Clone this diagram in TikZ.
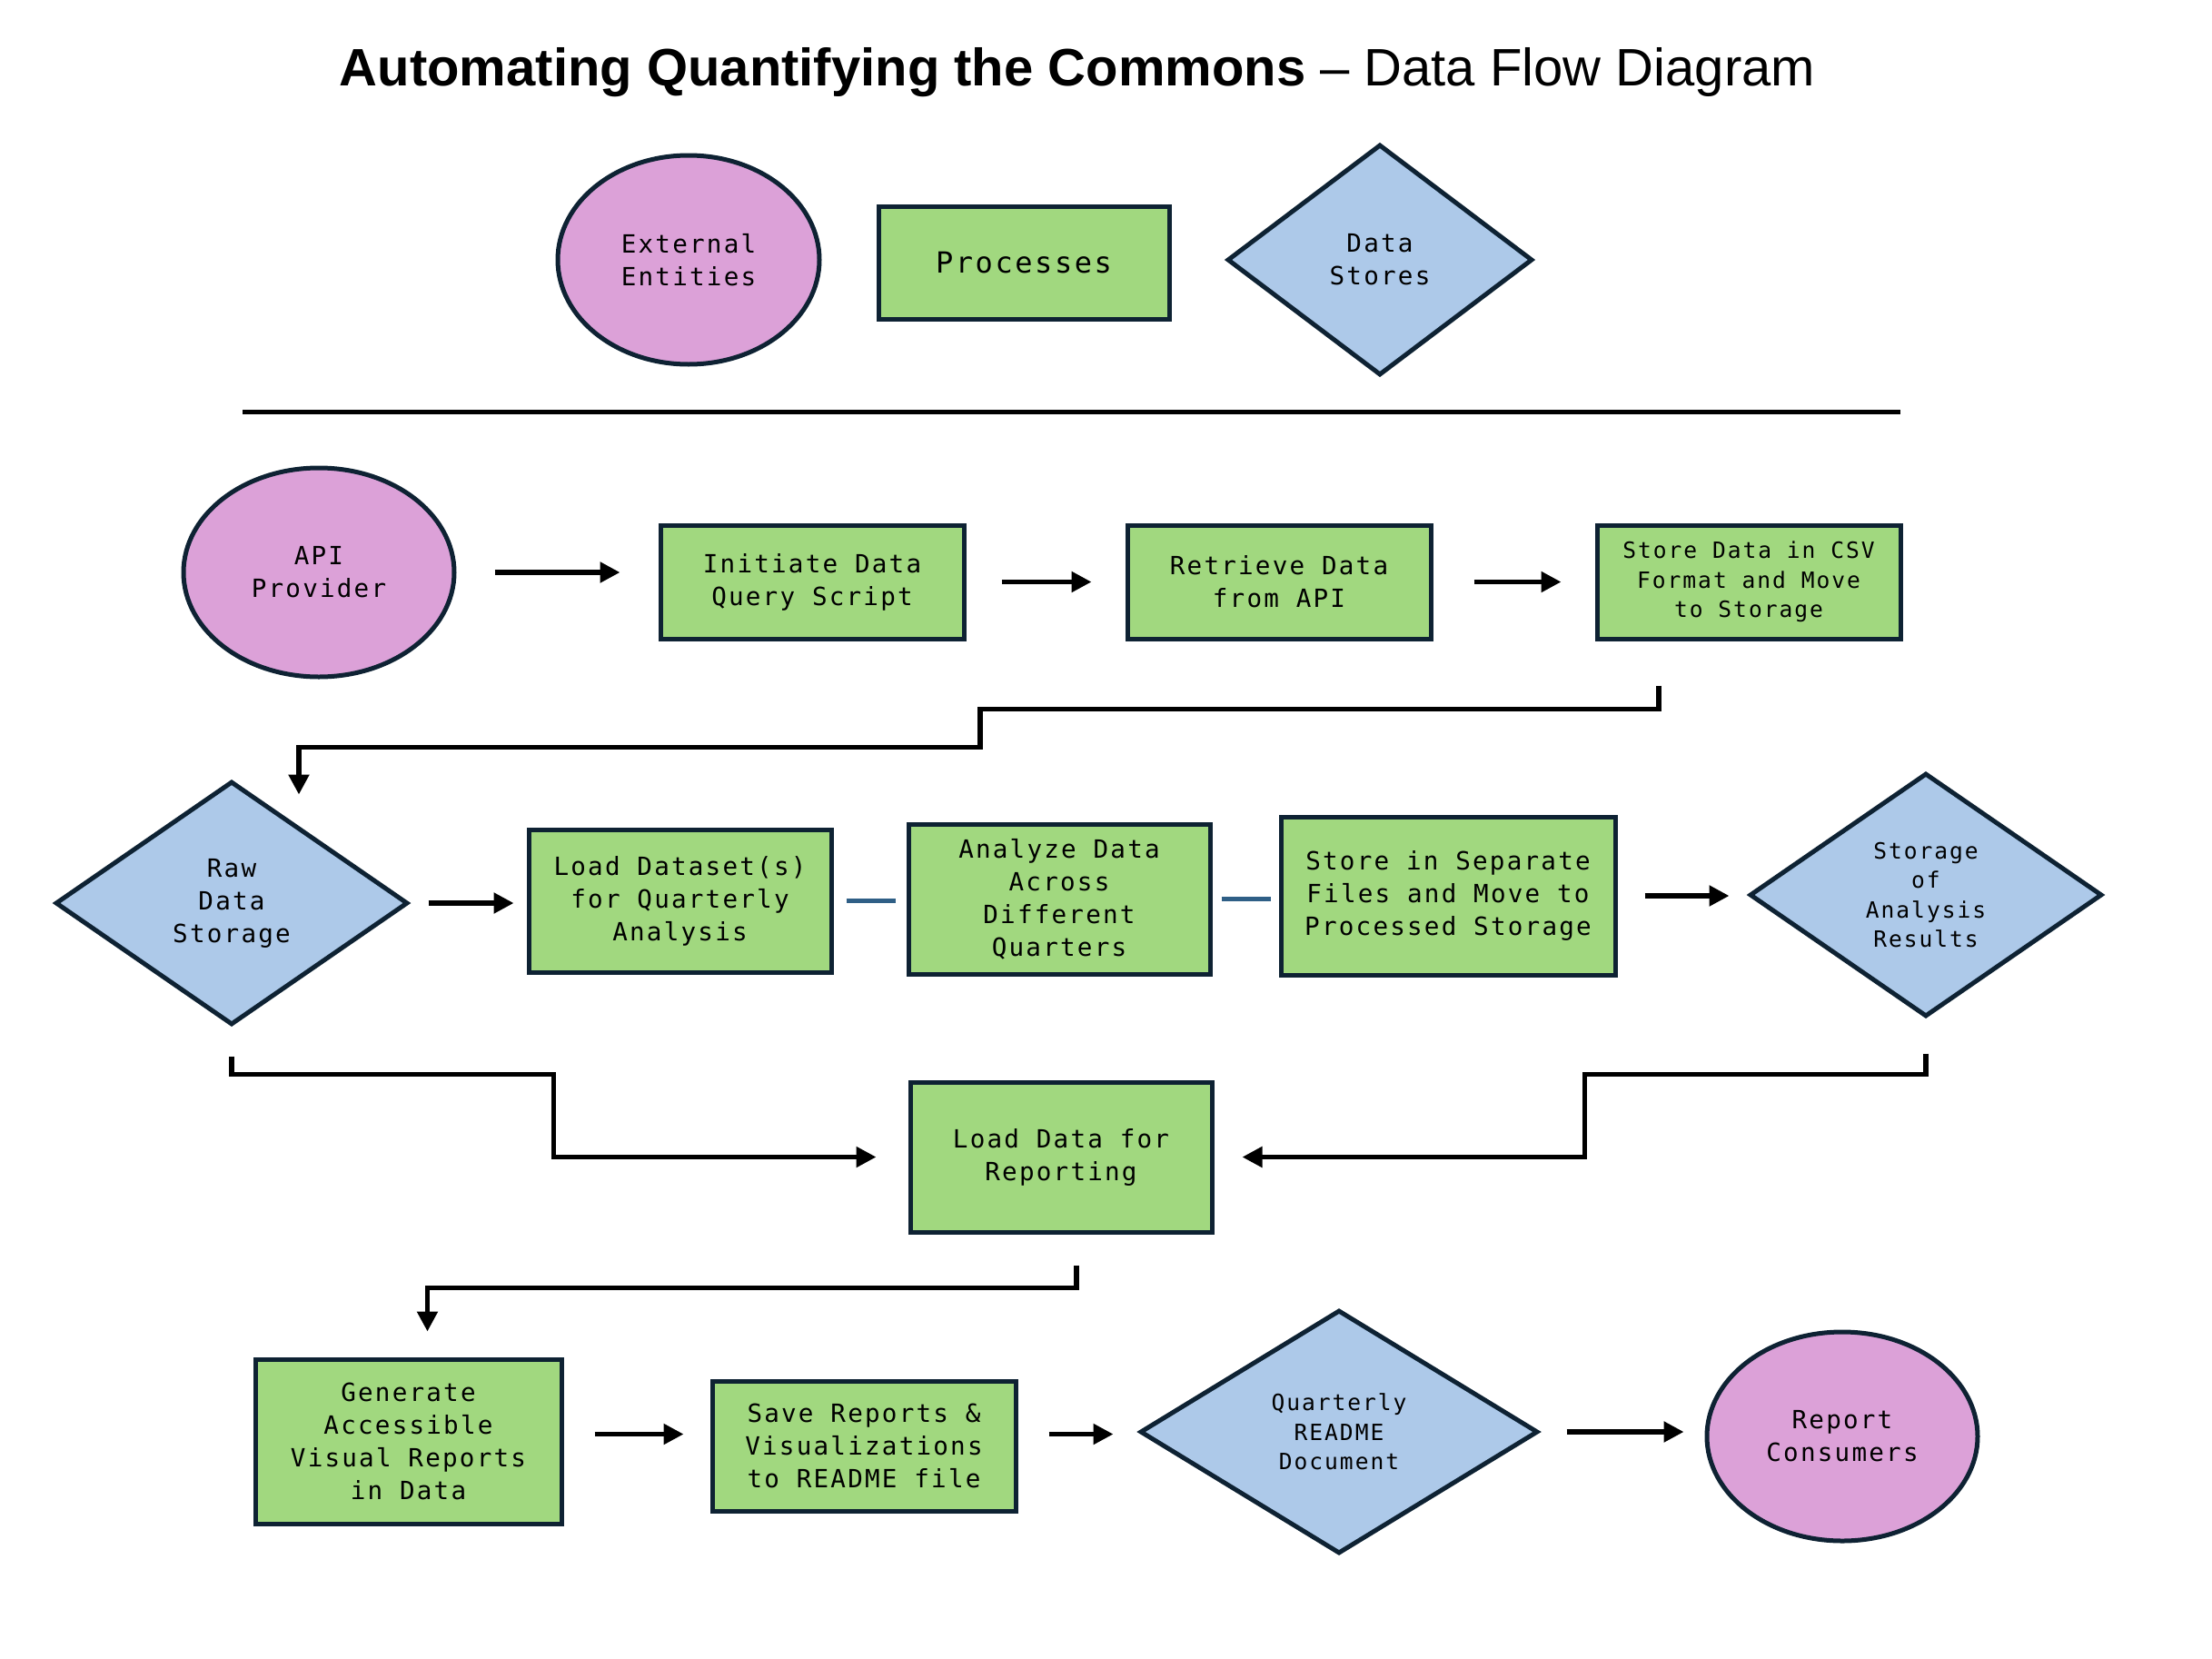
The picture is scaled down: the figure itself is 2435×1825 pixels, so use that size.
\documentclass[tikz,border=0pt]{standalone}
\usepackage{fontspec}
\setmainfont{Liberation Sans}
\newfontfamily\monof[LetterSpace=8]{DejaVu Sans Mono}
\usetikzlibrary{shapes.geometric,arrows.meta,calc}
\definecolor{procgreen}{HTML}{A1D87F}
\definecolor{entpink}{HTML}{DCA1D8}
\definecolor{storeblue}{HTML}{ADC9E9}
\definecolor{edgec}{HTML}{0E2233}
\definecolor{dashblue}{HTML}{2F5F86}
\begin{document}
\begin{tikzpicture}[x=0.5pt,y=-0.5pt,
  base/.style={draw=edgec, line width=2.5pt, align=center, inner sep=0pt, text=black,
    font=\monof\fontsize{13.8}{18}\selectfont},
  smalltxt/.style={font=\monof\fontsize{12.3}{16.3}\selectfont},
  proc/.style={base, rectangle, fill=procgreen},
  ent/.style={base, ellipse, fill=entpink},
  dstore/.style={base, diamond, fill=storeblue},
  arr/.style={draw=black, line width=2.6pt, -{Triangle[length=11pt,width=11pt]}},
  dashconn/.style={draw=dashblue, line width=2.4pt},
]
\path[use as bounding box] (0,0) rectangle (2435,1825);

% title
\node[font=\fontsize{29}{33}\selectfont, inner sep=0pt] (title) at (1186,80)
  {\textbf{Automating Quantifying the Commons} – Data Flow Diagram};

% legend
\node[ent, minimum width=144pt, minimum height=115pt] (legEE) at (758,286) {External\\Entities};
\node[proc, minimum width=160pt, minimum height=62pt, font=\monof\fontsize{16}{20}\selectfont] (legP) at (1127,289) {Processes};
\node[dstore, minimum width=168pt, minimum height=127pt] (legDS) at (1519,286) {Data\\Stores};

\coordinate (ruleL) at (267,453);
\coordinate (ruleR) at (2092,453);
\draw[line width=2.5pt] (ruleL) -- (ruleR);

% row 1
\node[ent, minimum width=149pt, minimum height=115pt] (api) at (351,630) {API\\Provider};
\node[proc, minimum width=167pt, minimum height=62.5pt] (init) at (894,640.5) {Initiate Data\\Query Script};
\node[proc, minimum width=167pt, minimum height=62.5pt] (retr) at (1408,640.5) {Retrieve Data\\from API};
\node[proc, smalltxt, minimum width=167pt, minimum height=62.5pt] (csv) at (1925,640.5) {Store Data in CSV\\Format and Move\\to Storage};

% row 2
\node[dstore, minimum width=194pt, minimum height=134pt] (raw) at (255,994) {Raw\\Data\\Storage};
\node[proc, minimum width=166.5pt, minimum height=78.5pt] (load) at (748.5,991.5) {Load Dataset(s)\\for Quarterly\\Analysis};
\node[proc, minimum width=166pt, minimum height=82.5pt] (anal) at (1166,989.5) {Analyze Data\\Across\\Different\\Quarters};
\node[proc, minimum width=184pt, minimum height=87pt] (sep) at (1594,986) {Store in Separate\\Files and Move to\\Processed Storage};
\node[dstore, smalltxt, minimum width=194pt, minimum height=134pt] (res) at (2120,985) {Storage\\of\\Analysis\\Results};

% row 3
\node[proc, minimum width=166pt, minimum height=82.5pt] (ldr) at (1168,1273.5) {Load Data for\\Reporting};

% row 4
\node[proc, minimum width=168.5pt, minimum height=90.5pt] (gen) at (449.5,1586.5) {Generate\\Accessible\\Visual Reports\\in Data};
\node[proc, minimum width=167pt, minimum height=71.5pt] (save) at (951,1591.5) {Save Reports \&\\Visualizations\\to README file};
\node[dstore, smalltxt, minimum width=219pt, minimum height=134pt] (readme) at (1474,1576) {Quarterly\\README\\Document};
\node[ent, minimum width=149pt, minimum height=115pt] (cons) at (2028,1581) {Report\\Consumers};

% connectors row 1
\draw[arr, shorten <=21pt, shorten >=21pt] (api.east) -- (api.east -| init.west);
\draw[arr, shorten <=19.5pt, shorten >=18.5pt] (init.east) -- (retr.west);
\draw[arr, shorten <=22.5pt, shorten >=18.5pt] (retr.east) -- (csv.west);

\coordinate (k1) at ($(csv.south)+(-99,49)$);
\draw[arr] (k1) -- ++(0,26) -| ++(-747,42) -| ($(raw.north)+(74,17)$);

% connectors row 2
\draw[arr, shorten <=10pt, shorten >=7pt] (raw.east) -- (raw.east -| load.west);
\draw[dashconn, shorten <=7pt, shorten >=6pt] (load.east) -- (load.east -| anal.west);
\draw[dashconn, shorten <=5pt, shorten >=4.5pt] (anal.east) -- (anal.east -| sep.west);
\draw[arr, shorten <=15pt, shorten >=10pt] (sep.east) -- (sep.east -| res.west);

\draw[arr] ($(raw.south)+(0,32)$) -- ++(0,20) -| ($(ldr.west)+(-390,0)$) -- ($(ldr.west)+(-35,0)$);
\draw[arr] ($(res.south)+(0,38)$) -- ++(0,23) -| ($(ldr.east)+(408,0)$) -- ($(ldr.east)+(31,0)$);

\draw[arr] ($(ldr.south)+(17,34)$) -- ++(0,25) -| ($(gen.north)+(21,-28)$);

% connectors row 4
\draw[arr, shorten <=17pt, shorten >=14.5pt] ($(gen.east)+(0,-8)$) -- ($(gen.east -| save.west)+(0,-8)$);
\draw[arr, shorten <=17pt, shorten >=13.5pt] ($(save.east)+(0,-13)$) -- ($(save.east -| readme.west)+(0,-13)$);
\draw[arr, shorten <=14.5pt, shorten >=11.5pt] (readme.east) -- (readme.east -| cons.west);
\end{tikzpicture}
\end{document}
